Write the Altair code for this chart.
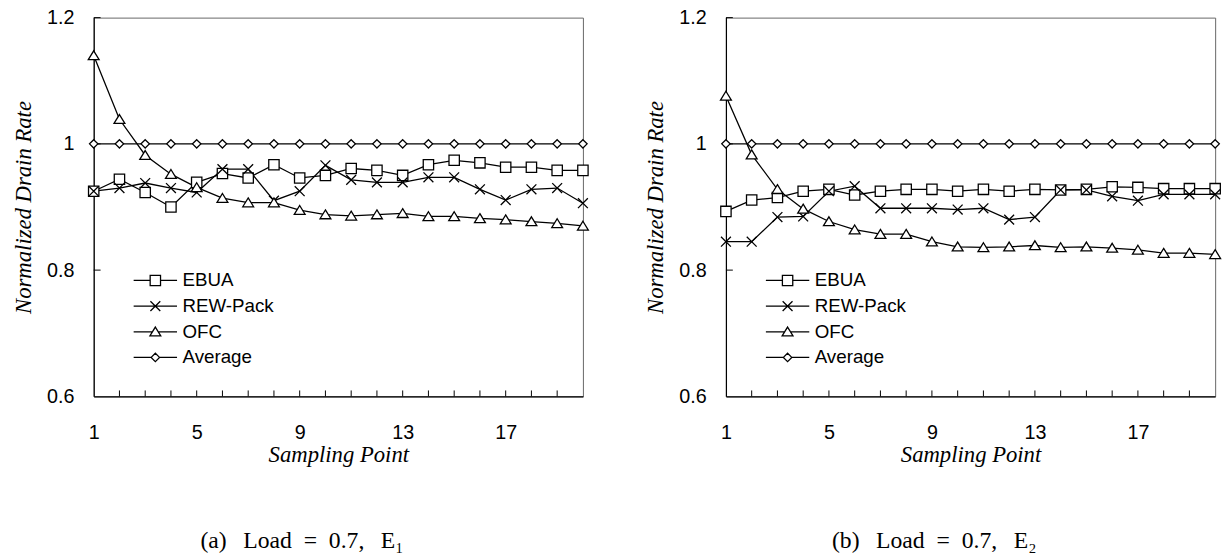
import altair as alt
import pandas as pd

points = list(range(1, 21))
series_names = ["EBUA", "REW-Pack", "OFC", "Average"]

# Panel (a): Load = 0.7, E1
ebua_a = [0.925, 0.944, 0.923, 0.900, 0.939, 0.953, 0.946, 0.967, 0.946, 0.950,
          0.961, 0.958, 0.950, 0.967, 0.974, 0.970, 0.963, 0.963, 0.958, 0.958]
rew_a = [0.925, 0.930, 0.938, 0.930, 0.923, 0.960, 0.960, 0.910, 0.925, 0.966,
         0.943, 0.939, 0.939, 0.947, 0.947, 0.928, 0.911, 0.928, 0.930, 0.906]
ofc_a = [1.140, 1.039, 0.982, 0.952, 0.931, 0.914, 0.907, 0.907, 0.895, 0.888,
         0.886, 0.888, 0.890, 0.885, 0.885, 0.882, 0.880, 0.877, 0.874, 0.870]
avg_a = [1.0, 1.0, 1.0, 1.0, 1.0, 1.0, 1.0, 1.0, 1.0, 1.0,
         1.0, 1.0, 1.0, 1.0, 1.0, 1.0, 1.0, 1.0, 1.0, 1.0]

# Panel (b): Load = 0.7, E2
ebua_b = [0.893, 0.911, 0.915, 0.925, 0.928, 0.919, 0.925, 0.928, 0.928, 0.925,
          0.928, 0.925, 0.928, 0.927, 0.928, 0.932, 0.931, 0.929, 0.929, 0.929]
rew_b = [0.845, 0.845, 0.884, 0.885, 0.925, 0.933, 0.898, 0.898, 0.898, 0.896,
         0.898, 0.880, 0.884, 0.927, 0.927, 0.917, 0.910, 0.920, 0.920, 0.920]
ofc_b = [1.076, 0.983, 0.928, 0.897, 0.877, 0.864, 0.857, 0.857, 0.845, 0.837,
         0.836, 0.837, 0.839, 0.836, 0.837, 0.835, 0.832, 0.827, 0.827, 0.825]
avg_b = [1.0, 1.0, 1.0, 1.0, 1.0, 1.0, 1.0, 1.0, 1.0, 1.0,
         1.0, 1.0, 1.0, 1.0, 1.0, 1.0, 1.0, 1.0, 1.0, 1.0]

x_tick_labels = [1, 5, 9, 13, 17]
y_tick_labels = [0.6, 0.8, 1.0, 1.2]
inner_x_ticks = list(range(2, 20))
inner_y_ticks = [0.8, 1.0, 1.2]

marker_paths = [
    "M-1.05,-1.05H1.05V1.05H-1.05Z",
    "M-1,-1L1,1M-1,1L1,-1",
    "M0,-0.95L1.1,0.85L-1.1,0.85Z",
    "M0,-0.85L0.85,0L0,0.85L-0.85,0Z",
]
legend_paths = [
    "M-4.4,0H-1.05M1.05,0H4.4M-1.05,-1.05H1.05V1.05H-1.05Z",
    "M-4.4,0H4.4M-1,-1L1,1M-1,1L1,-1",
    "M-4.4,0H-0.58M0.58,0H4.4M0,-0.95L1.1,0.85L-1.1,0.85Z",
    "M-4.4,0H-0.85M0.85,0H4.4M0,-0.85L0.85,0L0,0.85L-0.85,0Z",
]

W, H = 496, 384


def make_df(ebua, rew, ofc, avg):
    rows = []
    for name, vals in zip(series_names, [ebua, rew, ofc, avg]):
        for p, v in zip(points, vals):
            rows.append({"point": p, "value": v, "series": name})
    return pd.DataFrame(rows)


def panel(df, caption):
    x = alt.X("point:Q",
              scale=alt.Scale(domain=[1, 20], nice=False, zero=False),
              axis=alt.Axis(values=x_tick_labels, title="Sampling Point", ticks=False,
                            grid=False, labelPadding=27, titlePadding=1,
                            labelFlush=False))
    y = alt.Y("value:Q",
              scale=alt.Scale(domain=[0.6, 1.2], nice=False, zero=False),
              axis=alt.Axis(values=y_tick_labels, format="~g", title="Normalized Drain Rate",
                            ticks=False, grid=False, labelPadding=20, titlePadding=11))
    base = alt.Chart(df)
    xt = alt.Chart(pd.DataFrame({"point": inner_x_ticks})).mark_rule(
        color="black", strokeWidth=1).encode(x=x, y=alt.value(H), y2=alt.value(H - 6))
    yt = alt.Chart(pd.DataFrame({"value": inner_y_ticks})).mark_rule(
        color="black", strokeWidth=1).encode(y=y, x=alt.value(0), x2=alt.value(7))
    lines = base.mark_line(color="black", strokeWidth=1.3).encode(
        x=x, y=y, detail="series:N", order="point:Q")
    pts = base.mark_point(filled=True, fill="white", stroke="black", strokeWidth=1.3,
                          size=100, opacity=1).encode(
        x=x, y=y,
        shape=alt.Shape("series:N", scale=alt.Scale(domain=series_names, range=marker_paths),
                        legend=None))
    # legend-only layer: no rows drawn, the legend comes from the explicit scale domain
    leg = base.transform_filter("datum.value < 0").mark_point(
        filled=False, color="black", strokeWidth=1.3, size=100, opacity=1).encode(
        x=x, y=y,
        shape=alt.Shape("series:N", scale=alt.Scale(domain=series_names, range=legend_paths),
                        legend=alt.Legend(
                            orient="none", legendX=53, legendY=257, title=None,
                            labelFont="Liberation Sans", labelFontSize=19,
                            labelColor="black", labelOffset=18, rowPadding=6,
                            symbolSize=100, symbolStrokeColor="black",
                            symbolFillColor="white",
                            symbolStrokeWidth=1.3, symbolOpacity=1, padding=0)))
    return alt.layer(xt, yt, lines, pts, leg).resolve_scale(shape="independent").properties(
        width=W, height=H,
        title=alt.TitleParams(caption, orient="bottom", anchor="middle", frame="bounds",
                              font="Liberation Serif", fontSize=24, fontWeight="normal",
                              color="black", offset=64))


df_a = make_df(ebua_a, rew_a, ofc_a, avg_a)
df_b = make_df(ebua_b, rew_b, ofc_b, avg_b)

cap_a = "(a)\u2002\u2009Load\u2002=\u20020.7,\u2002\u2009E\u2081"
cap_b = "(b)\u2002\u2009Load\u2002=\u20020.7,\u2002\u2009E\u2082"

chart = alt.hconcat(
    panel(df_a, cap_a),
    panel(df_b, cap_b),
    spacing=53,
).resolve_scale(shape="independent").resolve_legend(shape="independent").properties(
    padding={"left": 12, "top": 3, "right": 2, "bottom": 0},
    background="white",
).configure_view(stroke="#666666", strokeWidth=1).configure_axis(
    domainColor="black", domainWidth=1.2, labelColor="black",
    labelFont="Liberation Sans", labelFontSize=20,
    titleFont="Liberation Serif", titleFontStyle="italic", titleFontWeight="normal",
    titleFontSize=23, titleColor="black",
)

chart.save("out.html", embed_options={"renderer": "svg", "actions": False})
